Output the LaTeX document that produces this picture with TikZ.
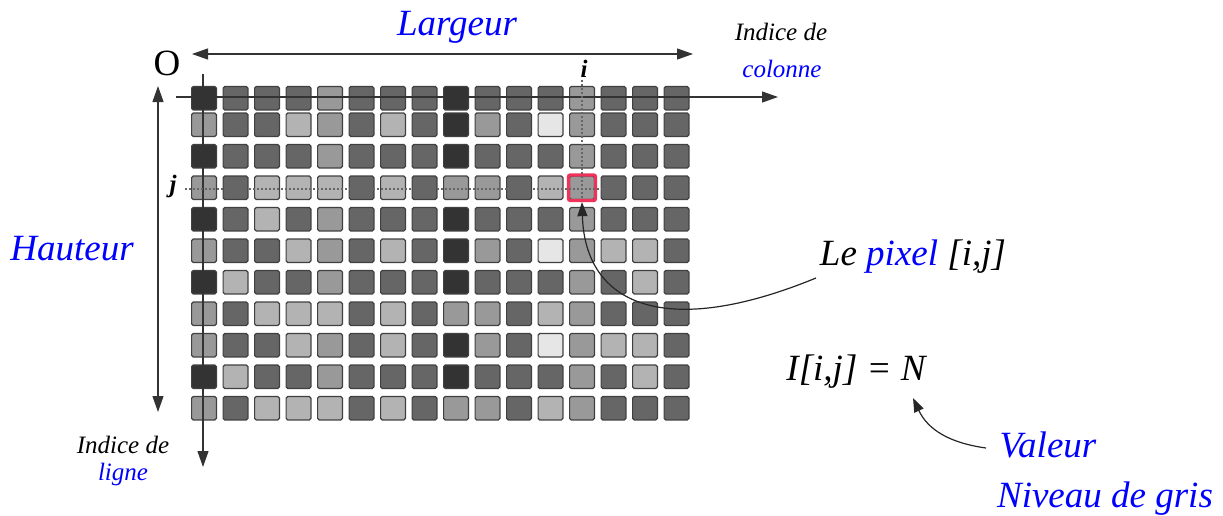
\documentclass[tikz,border=0pt]{standalone}
\usepackage{fontspec}
\setmainfont{Liberation Serif}
\usetikzlibrary{arrows.meta}
\definecolor{gD}{HTML}{333333}
\definecolor{gM}{HTML}{666666}
\definecolor{gG}{HTML}{999999}
\definecolor{gL}{HTML}{B3B3B3}
\definecolor{gW}{HTML}{E6E6E6}
\definecolor{pixred}{HTML}{F0325A}
\definecolor{lblue}{HTML}{0000FF}
\newcommand\lbltxt{\fontsize{18.5pt}{22pt}\selectfont}
\newcommand\smltxt{\fontsize{12.5pt}{15pt}\selectfont}
\begin{document}
\begin{tikzpicture}[x=0.5pt,y=-0.5pt,
  cell/.style={draw=black!75, line width=0.6pt, rounded corners=0.8pt,
    minimum width=12.4pt, minimum height=11.7pt, inner sep=0pt, outer sep=0pt},
  axisline/.style={draw=black!80, line width=0.6pt},
  tip/.style={-{Triangle[length=8pt,width=5.5pt]}},
  dtip/.style={{Triangle[length=8pt,width=5.5pt]}-{Triangle[length=8pt,width=5.5pt]}},
  guide/.style={draw=black!60, line width=0.8pt, dash pattern=on 0.8pt off 1.2pt},
  pointer/.style={draw=black!85, line width=0.6pt, -{Triangle[length=7pt,width=5pt]}},
  big/.style={font=\lbltxt\itshape, anchor=base, inner sep=0pt},
  small/.style={font=\smltxt\itshape, anchor=base, inner sep=0pt}]
\useasboundingbox (0,0) rectangle (1223,515);

% grid of pixels
\foreach \row [count=\r] in {
  {D,M,M,M,G,M,M,M,D,M,M,M,G,M,M,M},
  {G,M,M,L,G,M,L,M,D,G,M,W,G,M,M,M},
  {D,M,M,M,G,M,M,M,D,M,M,M,G,M,M,M},
  {G,M,L,L,L,M,L,M,G,G,M,L,G,M,M,M},
  {D,M,L,M,G,M,M,M,D,M,M,M,G,M,M,M},
  {G,M,M,L,G,M,L,M,D,G,M,W,G,L,L,M},
  {D,L,M,M,G,M,M,M,D,M,M,M,G,M,L,M},
  {G,M,L,L,L,M,L,M,G,G,M,L,G,M,M,M},
  {G,M,M,L,G,M,L,M,D,G,M,W,G,L,L,M},
  {D,L,M,M,G,M,M,M,D,M,M,M,G,M,L,M},
  {G,M,L,L,L,M,L,M,G,G,M,L,G,M,M,M}} {
  \pgfmathsetmacro\yy{\r==1 ? 98.25 : (\r==2 ? 124.75 : 156.25+31.5*(\r-3))}
  \foreach \col [count=\c] in \row {
    \pgfmathsetmacro\xx{204+31.5*(\c-1)}
    \node[cell, fill=g\col] (p-\r-\c) at (\xx,\yy) {};
  }
}

% selected pixel
\node[draw=pixred, line width=1.6pt, rounded corners=1pt, minimum width=13.6pt,
  minimum height=12.8pt, inner sep=0pt] (pix) at (p-4-13) {};

% coordinates for axes
\coordinate (hx0) at (176,97);
\coordinate (hx1) at (778,97);
\coordinate (vy0) at (203,74);
\coordinate (vy1) at (203,467);
\coordinate (lw0) at (192,54);
\coordinate (lw1) at (693,54);
\coordinate (ht0) at (158,86);
\coordinate (ht1) at (158,412);
\coordinate (gi0) at (582,80);
\coordinate (gi1) at (582,200);
\coordinate (gj0) at (185,189);
\coordinate (gj1) at (608,189);

% axes
\draw[axisline, tip] (hx0) -- (hx1);
\draw[axisline, tip] (vy0) -- (vy1);
\draw[axisline, dtip] (lw0) -- (lw1);
\draw[axisline, dtip] (ht0) -- (ht1);

% dotted guides
\draw[guide] (gi0) -- (gi1);
\draw[guide] (gj0) -- (gj1);

% labels
\node[font=\lbltxt, anchor=base, inner sep=0pt] (O) at (167,75) {O};
\node[big, text=lblue] (largeur) at (457,35) {Largeur};
\node[big, text=lblue] (hauteur) at (72,260) {Hauteur};
\node[small] (ic1) at (781,40) {Indice de};
\node[small, text=lblue] (ic2) at (782,77) {colonne};
\node[small] (il1) at (123,453) {Indice de};
\node[small, text=lblue] (il2) at (123,480) {ligne};
\node[font=\smltxt\bfseries\itshape, anchor=base, inner sep=0pt] (ilbl) at (584,77) {i};
\node[font=\smltxt\bfseries\itshape, anchor=base, inner sep=0pt] (jlbl) at (173,192) {j};
\node[big] (pixlbl) at (913,265) {Le \textcolor{lblue}{pixel} [i,j]};
\node[big] (eq) at (856,380) {I[i,j] = N};
\node[big, text=lblue] (val) at (1048,457) {Valeur};
\node[big, text=lblue] (ndg) at (1105,507) {Niveau de gris};

% pointers
\coordinate (pixstart) at (816,278);
\coordinate (valstart) at (986,448);
\coordinate (eqend) at (913,398);
\draw[pointer] (pixstart) .. controls (665,340) and (585,305) .. (pix.south);
\draw[pointer] (valstart) .. controls (950,443) and (928,430) .. (eqend);
\end{tikzpicture}
\end{document}
